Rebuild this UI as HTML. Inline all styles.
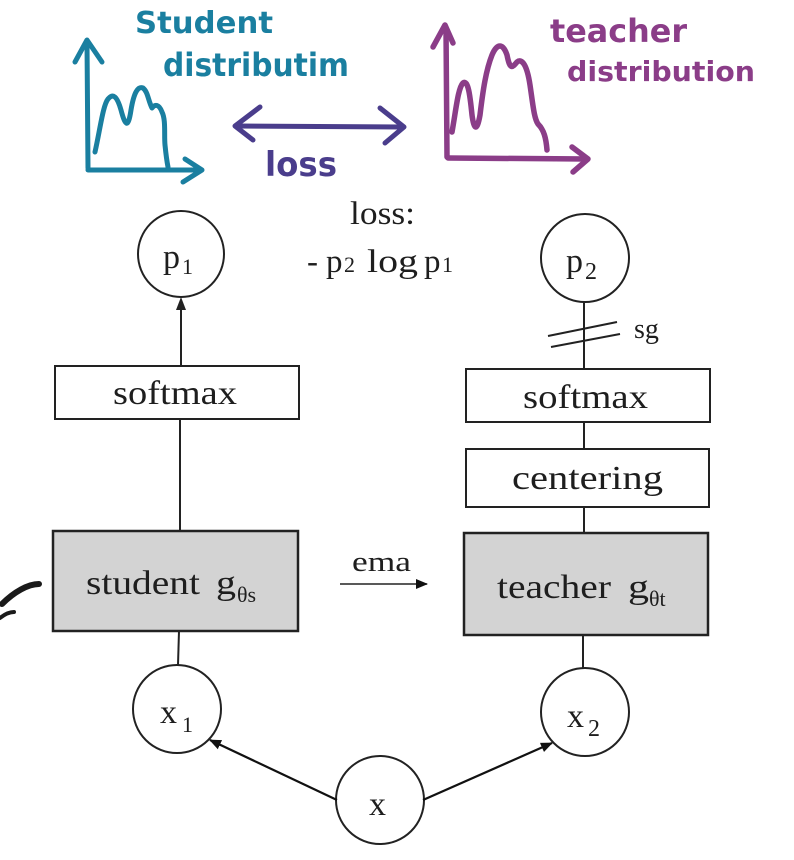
<!DOCTYPE html>
<html>
<head>
<meta charset="utf-8">
<style>
  html, body { margin:0; padding:0; background:#fff; }
  body { width:794px; height:860px; overflow:hidden; }
  svg { display:block; }
  .serif { font-family:"Liberation Serif", serif; fill:#1e1e1e; }
  .hand { font-family:"DejaVu Sans", "Liberation Sans", sans-serif; font-weight:bold; }
</style>
</head>
<body>
<svg width="794" height="860" viewBox="0 0 794 860" xmlns="http://www.w3.org/2000/svg">
  <defs>
    <marker id="ah" markerWidth="12" markerHeight="12" refX="11" refY="6" orient="auto" markerUnits="userSpaceOnUse">
      <path d="M0,1 L12,6 L0,11 Z" fill="#111"/>
    </marker>
  </defs>

  <!-- ===== Student hand sketch (teal) ===== -->
  <g fill="none" stroke="#1a7fa0" stroke-width="5" stroke-linecap="round" stroke-linejoin="round">
    <path d="M88,168 L87,42"/>
    <path d="M75,62 L87,40 L102,62"/>
    <path d="M88,170 L200,170"/>
    <path d="M185,159 L202,170 L183,182"/>
    <path d="M95,152 C100,130 103,105 108,99 C113,93 117,96 121,110 C125,125 128,130 131,110 C134,92 138,86 143,88 C148,92 148,100 152,108 C155,104 159,104 162,112 C166,120 164,135 165,145 C166,155 167,162 168,167"/>
  </g>
  <text class="hand" x="135" y="33" font-size="30" fill="#1a7fa0" textLength="138" lengthAdjust="spacingAndGlyphs">Student</text>
  <text class="hand" x="163" y="76" font-size="32" fill="#1a7fa0" textLength="186" lengthAdjust="spacingAndGlyphs">distributim</text>

  <!-- ===== loss double arrow (purple) ===== -->
  <g fill="none" stroke="#4a3d8c" stroke-width="5" stroke-linecap="round" stroke-linejoin="round">
    <path d="M236,126 L402,127"/>
    <path d="M260,107 L235,126 L253,140"/>
    <path d="M380,108 L404,127 L385,143"/>
  </g>
  <text class="hand" x="265" y="176" font-size="34" fill="#4a3d8c" textLength="72" lengthAdjust="spacingAndGlyphs">loss</text>

  <!-- ===== Teacher hand sketch (magenta) ===== -->
  <g fill="none" stroke="#8b3d88" stroke-width="5.5" stroke-linecap="round" stroke-linejoin="round">
    <path d="M447,157 L446,28"/>
    <path d="M433,47 L445,25 L453,43"/>
    <path d="M448,158 L587,159"/>
    <path d="M572,147 L588,159 L573,172"/>
    <path d="M452,132 C456,110 458,88 463,83 C468,79 470,95 472,115 C474,130 477,132 480,115 C483,90 486,70 492,55 C497,43 503,43 507,55 C510,70 512,68 517,62 C522,58 527,65 530,85 C533,105 534,118 538,124 C544,130 546,138 547,150"/>
  </g>
  <text class="hand" x="550" y="42" font-size="32" fill="#8b3d88" textLength="137" lengthAdjust="spacingAndGlyphs">teacher</text>
  <text class="hand" x="567" y="81" font-size="28" fill="#8b3d88" textLength="188" lengthAdjust="spacingAndGlyphs">distribution</text>

  <!-- ===== loss text ===== -->
  <text class="serif" x="350" y="224" font-size="33" textLength="65" lengthAdjust="spacingAndGlyphs">loss:</text>
  <text class="serif" x="307" y="272" font-size="33">-</text>
  <text class="serif" x="326" y="272" font-size="33">p</text>
  <text class="serif" x="344" y="272" font-size="22">2</text>
  <text class="serif" x="367" y="272" font-size="33" textLength="51" lengthAdjust="spacingAndGlyphs">log</text>
  <text class="serif" x="424" y="272" font-size="33">p</text>
  <text class="serif" x="442" y="272" font-size="22">1</text>

  <!-- ===== Student column ===== -->
  <circle cx="181" cy="254" r="43" fill="#fff" stroke="#222" stroke-width="2"/>
  <text class="serif" x="163" y="268" font-size="34">p</text>
  <text class="serif" x="182" y="274" font-size="22">1</text>
  <line x1="181" y1="366" x2="181" y2="308" stroke="#222" stroke-width="2"/>
  <path d="M181,297 L176,310 L186,310 Z" fill="#222"/>

  <rect x="55" y="366" width="244" height="53" fill="#fff" stroke="#222" stroke-width="2"/>
  <text class="serif" x="113" y="404" font-size="34" textLength="124" lengthAdjust="spacingAndGlyphs">softmax</text>

  <line x1="180" y1="419" x2="180" y2="531" stroke="#222" stroke-width="2"/>

  <rect x="53" y="531" width="245" height="100" fill="#d3d3d3" stroke="#222" stroke-width="2.5"/>
  <text class="serif" x="86" y="594" font-size="34" textLength="114" lengthAdjust="spacingAndGlyphs">student</text>
  <text class="serif" x="216" y="594" font-size="34" textLength="20" lengthAdjust="spacingAndGlyphs">g</text>
  <text class="serif" x="237" y="602" font-size="22">θs</text>

  <line x1="179" y1="631" x2="178" y2="665" stroke="#222" stroke-width="2"/>
  <circle cx="177" cy="709" r="44" fill="#fff" stroke="#222" stroke-width="2"/>
  <text class="serif" x="160" y="723" font-size="34">x</text>
  <text class="serif" x="182" y="732" font-size="22">1</text>

  <!-- ===== ema ===== -->
  <text class="serif" x="352" y="571" font-size="28" textLength="59" lengthAdjust="spacingAndGlyphs">ema</text>
  <line x1="340" y1="584" x2="427" y2="584" stroke="#222" stroke-width="1.5" marker-end="url(#ah)"/>

  <!-- ===== Teacher column ===== -->
  <circle cx="585" cy="258" r="44" fill="#fff" stroke="#222" stroke-width="2"/>
  <text class="serif" x="566" y="272" font-size="34">p</text>
  <text class="serif" x="585" y="279" font-size="24">2</text>
  <line x1="584" y1="302" x2="584" y2="369" stroke="#222" stroke-width="2"/>
  <line x1="548" y1="336" x2="617" y2="322" stroke="#222" stroke-width="2"/>
  <line x1="551" y1="347" x2="620" y2="334" stroke="#222" stroke-width="2"/>
  <text class="serif" x="634" y="338" font-size="28">sg</text>

  <rect x="466" y="369" width="244" height="53" fill="#fff" stroke="#222" stroke-width="2"/>
  <text class="serif" x="523" y="408" font-size="34" textLength="125" lengthAdjust="spacingAndGlyphs">softmax</text>

  <line x1="584" y1="422" x2="584" y2="449" stroke="#222" stroke-width="2"/>
  <rect x="466" y="449" width="243" height="58" fill="#fff" stroke="#222" stroke-width="2"/>
  <text class="serif" x="512" y="489" font-size="34" textLength="151" lengthAdjust="spacingAndGlyphs">centering</text>

  <line x1="584" y1="507" x2="584" y2="533" stroke="#222" stroke-width="2"/>
  <rect x="464" y="533" width="244" height="102" fill="#d3d3d3" stroke="#222" stroke-width="2.5"/>
  <text class="serif" x="497" y="598" font-size="34" textLength="114" lengthAdjust="spacingAndGlyphs">teacher</text>
  <text class="serif" x="628" y="598" font-size="34" textLength="21" lengthAdjust="spacingAndGlyphs">g</text>
  <text class="serif" x="649" y="606" font-size="22">θt</text>

  <line x1="583" y1="635" x2="583" y2="668" stroke="#222" stroke-width="2"/>
  <circle cx="585" cy="712" r="44" fill="#fff" stroke="#222" stroke-width="2"/>
  <text class="serif" x="567" y="727" font-size="34">x</text>
  <text class="serif" x="588" y="736" font-size="24">2</text>

  <!-- ===== x node & arrows ===== -->
  <circle cx="380" cy="800" r="44" fill="#fff" stroke="#222" stroke-width="2"/>
  <text class="serif" x="369" y="815" font-size="34">x</text>
  <line x1="337" y1="800" x2="210" y2="740" stroke="#111" stroke-width="2.2" marker-end="url(#ah)"/>
  <line x1="423" y1="800" x2="552" y2="743" stroke="#111" stroke-width="2.2" marker-end="url(#ah)"/>

  <!-- ===== black brush stroke at left ===== -->
  <g fill="none" stroke="#1a1a1a" stroke-linecap="round" stroke-linejoin="round">
    <path d="M39,584 C28,584 14,592 2,604" stroke-width="6"/>
    <path d="M0,618 C5,614 10,612 14,612" stroke-width="4"/>
  </g>
</svg>
</body>
</html>
